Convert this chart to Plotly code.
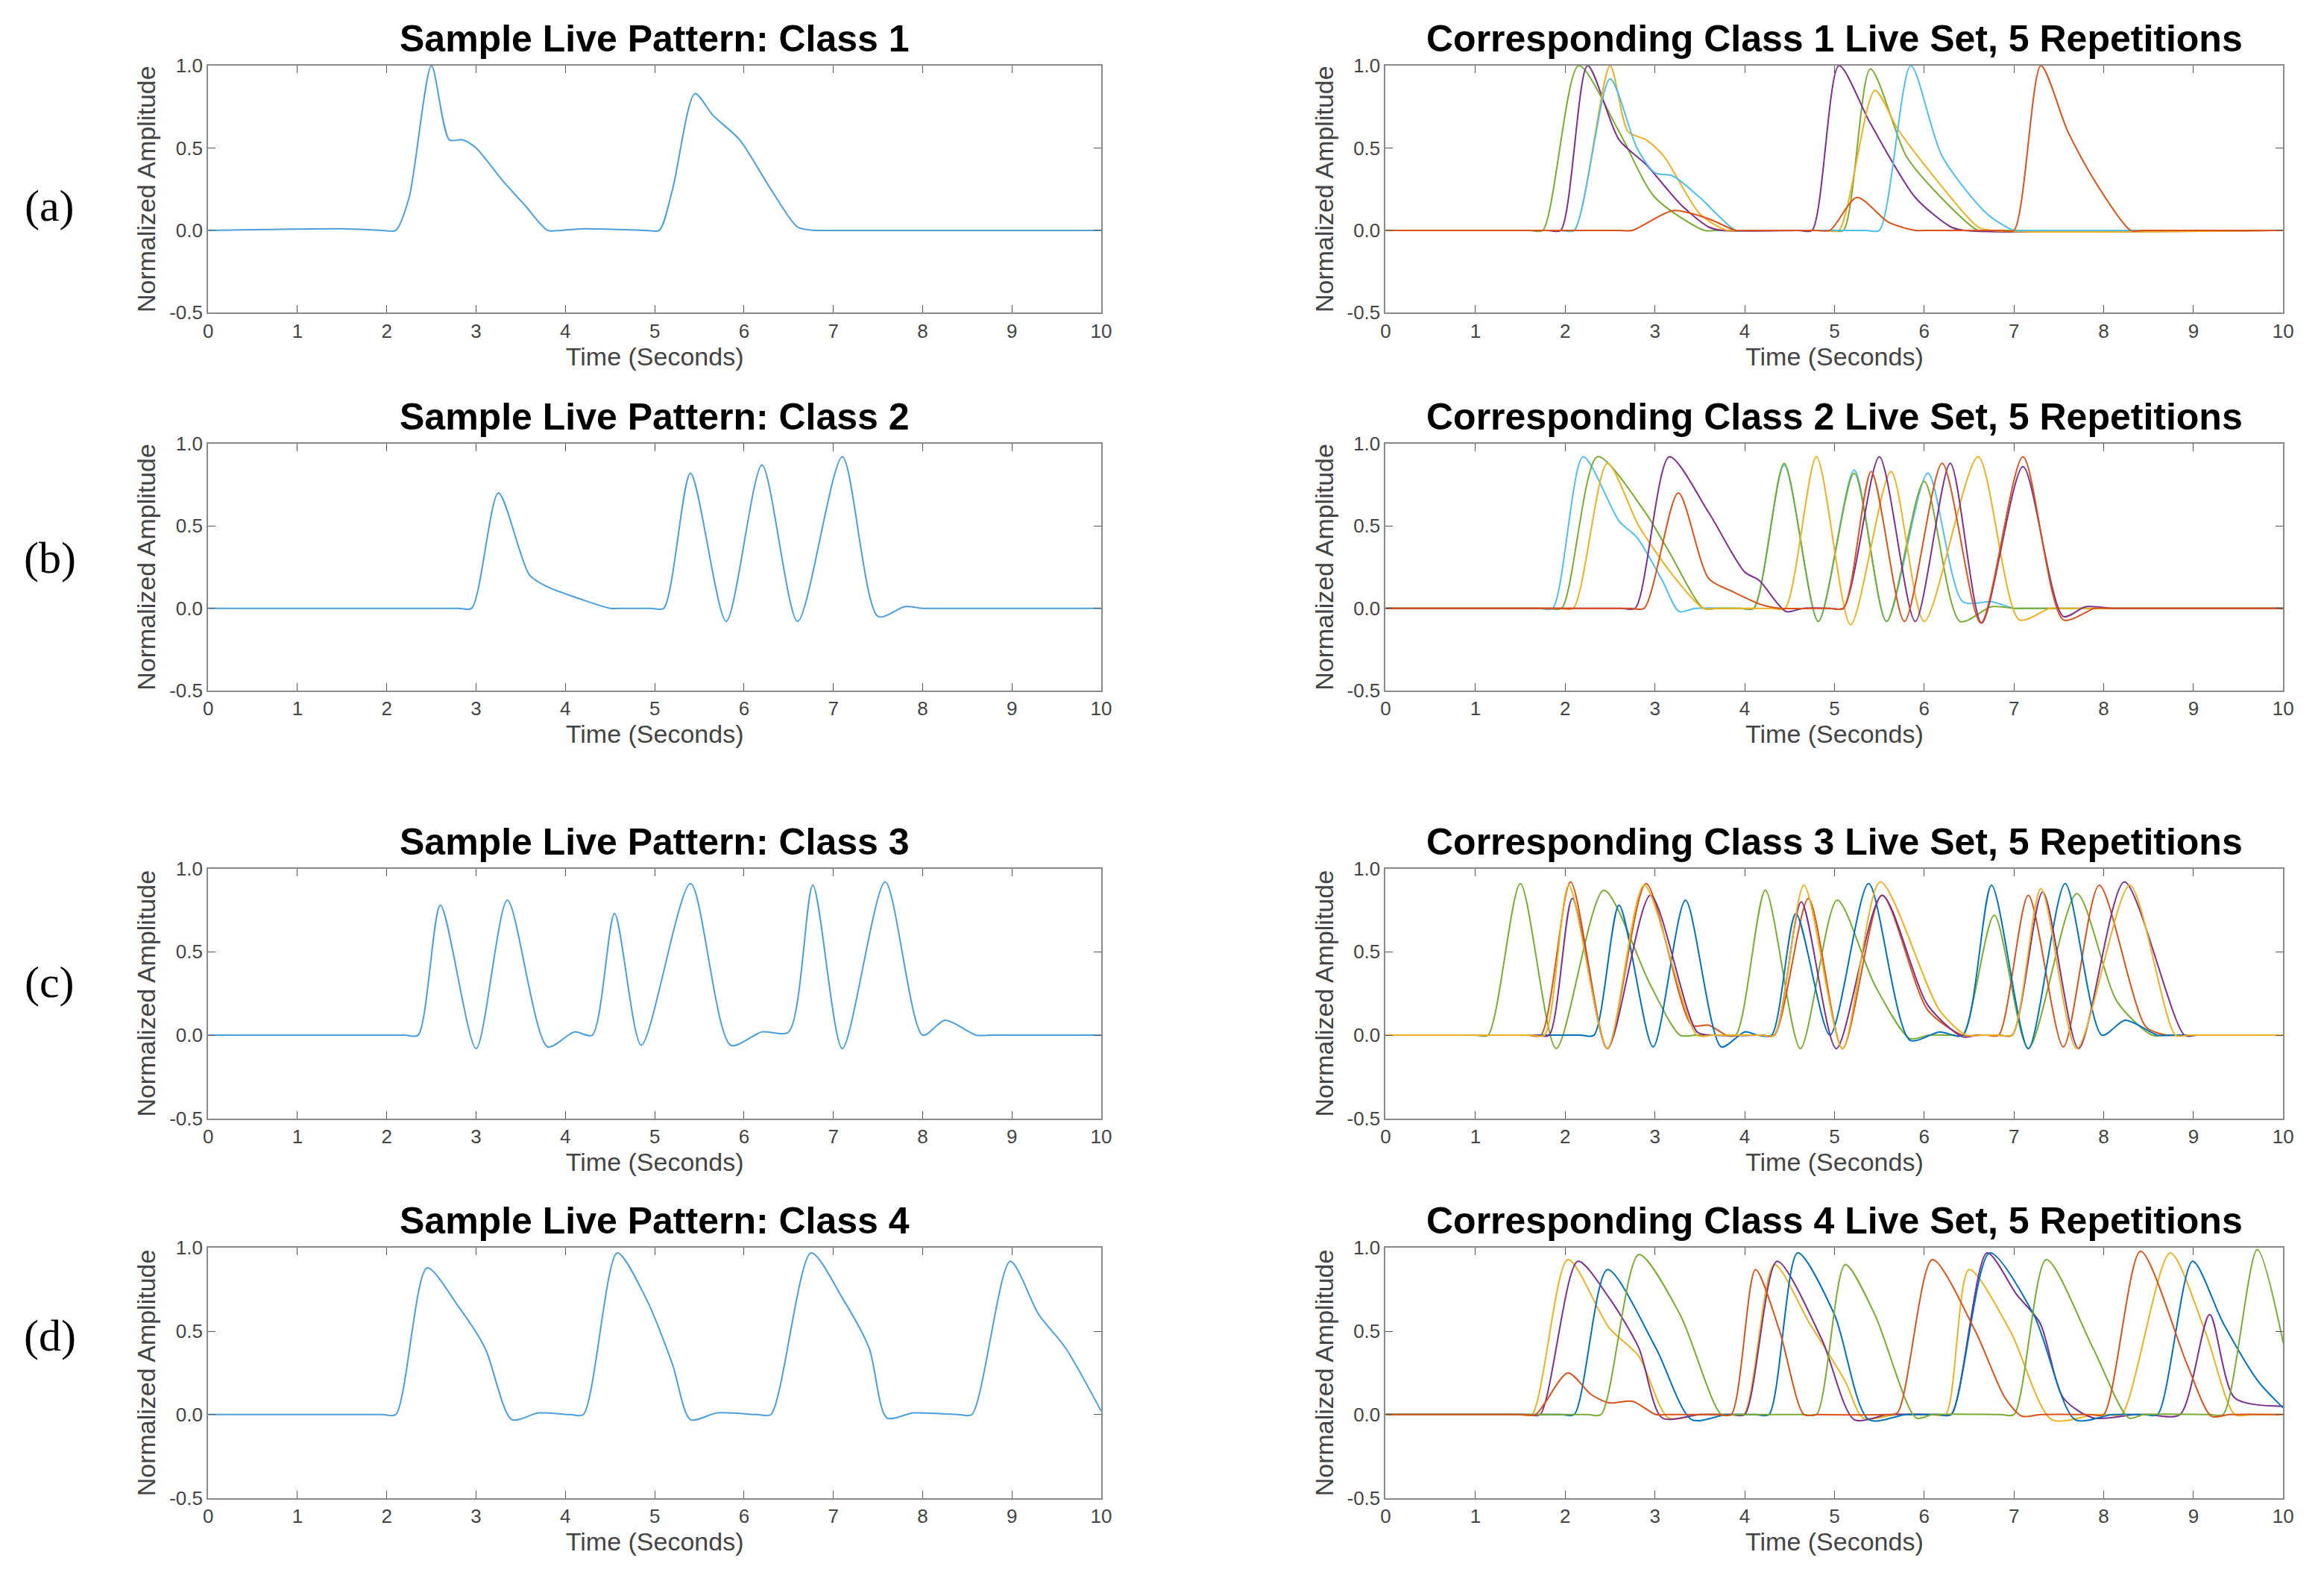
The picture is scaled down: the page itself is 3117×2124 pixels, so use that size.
import plotly.graph_objects as go
from plotly.subplots import make_subplots

BLUE = "#0072BD"
ORANGE = "#D95319"
YELLOW = "#EDB120"
PURPLE = "#7E2F8E"
GREEN = "#77AC30"
LIGHTBLUE = "#4DBEEE"
SAMPLE = "#4a9fdc"

# sample patterns (time, amplitude)
sample_1_t = [0, 1.5, 1.95, 2.1, 2.25, 2.5, 2.7, 2.85, 3.0, 3.3, 3.55, 3.8, 3.95, 4.2, 4.9, 5.05, 5.2, 5.45, 5.65, 5.95, 6.3, 6.6, 6.8, 6.95, 10]
sample_1_y = [0, 0.01, 0, 0, 0.2, 1.0, 0.55, 0.55, 0.5, 0.3, 0.15, 0, 0, 0.01, 0, 0, 0.25, 0.83, 0.7, 0.55, 0.25, 0.02, 0, 0, 0]

sample_2_t = [0, 2.8, 2.95, 3.25, 3.6, 3.8, 4.2, 4.5, 4.65, 4.95, 5.1, 5.4, 5.8, 6.2, 6.6, 7.1, 7.5, 7.8, 8.0, 8.15, 10]
sample_2_y = [0, 0, 0, 0.7, 0.2, 0.13, 0.05, 0, 0, 0, 0, 0.82, -0.08, 0.87, -0.08, 0.92, -0.05, 0.01, 0, 0, 0]

sample_3_t = [0, 2.2, 2.35, 2.6, 3.0, 3.35, 3.8, 4.1, 4.3, 4.55, 4.85, 5.4, 5.85, 6.2, 6.5, 6.77, 7.1, 7.58, 8.0, 8.25, 8.6, 8.75, 10]
sample_3_y = [0, 0, 0, 0.78, -0.08, 0.81, -0.07, 0.02, 0, 0.73, -0.06, 0.91, -0.06, 0.02, 0.02, 0.9, -0.08, 0.92, 0, 0.09, 0, 0, 0]

sample_4_t = [0, 1.95, 2.1, 2.45, 2.8, 3.1, 3.4, 3.7, 4.05, 4.2, 4.58, 4.9, 5.2, 5.4, 5.7, 6.15, 6.3, 6.75, 7.1, 7.4, 7.6, 7.9, 8.4, 8.55, 8.98, 9.3, 9.6, 10]
sample_4_y = [0, 0, 0, 0.88, 0.65, 0.4, -0.03, 0.01, 0, 0, 0.97, 0.7, 0.3, -0.03, 0.01, 0, 0, 0.97, 0.7, 0.4, -0.02, 0.01, 0, 0, 0.92, 0.6, 0.4, 0.02]

# repetition sets: (colour, times, amplitudes)
set_1 = [
    (GREEN, [0, 1.6, 1.75, 2.15, 2.6, 3.0, 3.55, 3.7, 4.95, 5.1, 5.4, 5.8, 6.1, 6.6, 6.75, 10],
            [0, 0, 0, 1.0, 0.6, 0.2, 0, 0, 0, 0, 0.98, 0.45, 0.25, 0, 0, 0]),
    (PURPLE, [0, 1.8, 1.95, 2.25, 2.6, 2.9, 3.3, 3.6, 3.75, 4.6, 4.75, 5.05, 5.4, 5.9, 6.3, 6.45, 10],
             [0, 0, 0, 1.0, 0.55, 0.4, 0.15, 0.02, 0, 0, 0, 1.0, 0.65, 0.2, 0.02, 0, 0]),
    (YELLOW, [0, 1.95, 2.1, 2.5, 2.7, 2.9, 3.1, 3.5, 3.8, 3.95, 4.9, 5.05, 5.45, 5.7, 6.0, 6.6, 6.75, 10],
             [0, 0, 0, 1.0, 0.6, 0.55, 0.45, 0.1, 0, 0, 0, 0, 0.85, 0.62, 0.4, 0.02, 0, 0]),
    (LIGHTBLUE, [0, 1.95, 2.1, 2.5, 2.8, 3.0, 3.2, 3.5, 3.9, 4.05, 5.35, 5.5, 5.85, 6.2, 6.7, 7.0, 7.15, 10],
                [0, 0, 0, 0.92, 0.5, 0.35, 0.33, 0.2, 0, 0, 0, 0, 1.0, 0.45, 0.1, 0, 0, 0]),
    (ORANGE, [0, 2.6, 2.75, 3.2, 3.6, 3.9, 4.05, 4.8, 4.95, 5.25, 5.6, 5.9, 6.05, 6.85, 7.0, 7.3, 7.6, 7.9, 8.3, 8.45, 10],
             [0, 0, 0, 0.12, 0.07, 0, 0, 0, 0, 0.2, 0.05, 0, 0, 0, 0, 1.0, 0.6, 0.3, 0, 0, 0]),
]

set_2 = [
    (LIGHTBLUE, [0, 1.7, 1.86, 2.2, 2.6, 2.8, 3.08, 3.27, 3.45, 3.95, 4.1, 4.44, 4.82, 5.22, 5.58, 6.04, 6.43, 6.75, 7.0, 7.15, 10],
                [0, 0, 0, 0.92, 0.53, 0.43, 0.17, -0.02, 0, 0, 0, 0.87, -0.08, 0.84, -0.08, 0.82, 0.04, 0.04, 0, 0, 0]),
    (GREEN, [0, 1.8, 1.96, 2.36, 2.87, 3.15, 3.54, 3.7, 3.95, 4.1, 4.44, 4.82, 5.22, 5.58, 6.0, 6.4, 6.75, 7.0, 7.15, 10],
            [0, 0, 0, 0.92, 0.6, 0.35, 0, 0, 0, 0, 0.88, -0.08, 0.82, -0.08, 0.77, -0.08, 0.01, 0, 0, 0]),
    (YELLOW, [0, 1.93, 2.09, 2.47, 2.82, 3.2, 3.54, 3.7, 4.3, 4.45, 4.8, 5.18, 5.63, 6.0, 6.6, 7.06, 7.4, 7.55, 10],
             [0, 0, 0, 0.88, 0.5, 0.2, 0, 0, 0, 0, 0.92, -0.1, 0.83, -0.08, 0.92, -0.07, 0, 0, 0]),
    (PURPLE, [0, 2.62, 2.78, 3.16, 3.6, 4.0, 4.16, 4.46, 4.65, 4.95, 5.1, 5.5, 5.9, 6.29, 6.64, 7.1, 7.55, 7.8, 8.1, 8.25, 10],
             [0, 0, 0, 0.92, 0.58, 0.22, 0.17, -0.02, 0, 0, 0, 0.92, -0.08, 0.88, -0.09, 0.86, -0.05, 0.01, 0, 0, 0]),
    (ORANGE, [0, 2.72, 2.88, 3.26, 3.6, 3.87, 4.2, 4.4, 4.95, 5.1, 5.41, 5.78, 6.2, 6.63, 7.1, 7.55, 7.9, 8.05, 10],
             [0, 0, 0, 0.7, 0.18, 0.1, 0.02, 0, 0, 0, 0.83, -0.08, 0.88, -0.09, 0.92, -0.07, 0, 0, 0]),
]

set_3 = [
    (GREEN, [0, 1.0, 1.14, 1.5, 1.9, 2.43, 2.95, 3.28, 3.45, 3.75, 3.9, 4.23, 4.62, 5.03, 5.45, 5.84, 6.05, 6.3, 6.43, 6.78, 7.16, 7.7, 8.15, 8.54, 8.7, 10],
            [0, 0, 0, 0.91, -0.08, 0.87, 0.3, 0, 0, 0, 0, 0.87, -0.08, 0.81, 0.3, -0.02, 0, 0, 0, 0.72, -0.08, 0.85, 0.2, 0, 0, 0]),
    (ORANGE, [0, 1.58, 1.73, 2.06, 2.47, 2.9, 3.41, 3.6, 3.8, 3.95, 4.18, 4.33, 4.71, 5.09, 5.53, 6.04, 6.43, 6.6, 6.7, 6.83, 7.16, 7.55, 7.95, 8.47, 8.7, 8.85, 10],
             [0, 0, 0, 0.92, -0.08, 0.91, 0.06, 0.06, 0, 0, 0, 0, 0.82, -0.08, 0.84, 0.15, 0, 0, 0, 0, 0.84, -0.07, 0.9, 0.05, 0, 0, 0]),
    (BLUE, [0, 2.17, 2.32, 2.6, 2.98, 3.34, 3.74, 4.0, 4.15, 4.3, 4.57, 4.95, 5.38, 5.84, 6.17, 6.43, 6.75, 7.16, 7.57, 7.98, 8.24, 8.6, 8.75, 10],
           [0, 0, 0, 0.78, -0.07, 0.81, -0.07, 0.02, 0, 0, 0.73, 0, 0.91, -0.03, 0.02, 0, 0.9, -0.08, 0.91, 0, 0.09, 0, 0, 0]),
    (PURPLE, [0, 1.67, 1.82, 2.08, 2.47, 2.95, 3.47, 3.65, 4.18, 4.33, 4.63, 5.02, 5.53, 6.04, 6.43, 6.6, 6.83, 6.98, 7.32, 7.72, 8.23, 8.9, 9.05, 10],
             [0, 0, 0, 0.82, -0.08, 0.84, 0.02, 0, 0, 0, 0.8, -0.08, 0.84, 0.18, -0.01, 0, 0, 0, 0.86, -0.08, 0.92, 0, 0, 0]),
    (YELLOW, [0, 1.62, 1.77, 2.04, 2.47, 2.88, 3.47, 3.65, 4.18, 4.33, 4.66, 5.09, 5.51, 6.17, 6.47, 6.65, 6.83, 6.98, 7.3, 7.7, 8.29, 8.8, 8.95, 10],
             [0, 0, 0, 0.9, -0.08, 0.9, 0, 0, 0, 0, 0.9, -0.08, 0.92, 0.15, 0, 0, 0, 0, 0.88, -0.08, 0.9, 0, 0, 0]),
]

set_4 = [
    (YELLOW, [0, 1.48, 1.63, 2.03, 2.49, 2.82, 3.15, 3.5, 3.84, 3.99, 4.33, 4.72, 5.12, 5.32, 5.7, 6.09, 6.24, 6.5, 6.96, 7.42, 7.9, 8.05, 8.2, 8.74, 9.13, 9.46, 9.65, 10],
             [0, 0, 0, 0.93, 0.52, 0.35, -0.02, 0, 0, 0, 0.9, 0.55, 0.2, -0.02, 0, 0, 0, 0.87, 0.5, -0.03, 0, 0, 0, 0.97, 0.5, 0, 0, 0]),
    (PURPLE, [0, 1.57, 1.72, 2.14, 2.49, 2.82, 3.08, 3.5, 3.85, 4.0, 4.36, 4.86, 5.22, 5.6, 6.15, 6.3, 6.7, 7.03, 7.29, 7.55, 7.88, 8.35, 8.5, 8.85, 9.18, 9.46, 10],
             [0, 0, 0, 0.92, 0.7, 0.4, -0.02, 0, 0, 0, 0.92, 0.45, -0.03, 0, 0, 0, 0.97, 0.72, 0.55, 0.1, -0.02, 0, 0, 0, 0.6, 0.1, 0.05]),
    (BLUE, [0, 1.95, 2.1, 2.47, 3.01, 3.41, 3.8, 4.12, 4.27, 4.59, 5.0, 5.38, 5.8, 6.15, 6.3, 6.73, 7.22, 7.68, 8.1, 8.45, 8.6, 8.99, 9.33, 9.72, 10],
           [0, 0, 0, 0.87, 0.4, -0.03, 0, 0, 0, 0.97, 0.6, -0.03, 0, 0, 0, 0.97, 0.6, -0.03, 0, 0, 0, 0.92, 0.55, 0.2, 0.04]),
    (GREEN, [0, 2.25, 2.4, 2.82, 3.28, 3.74, 3.9, 4.65, 4.8, 5.12, 5.45, 5.91, 6.1, 6.85, 7.0, 7.36, 7.88, 8.28, 8.45, 9.18, 9.33, 9.71, 10],
            [0, 0, 0, 0.96, 0.6, 0, 0, 0, 0, 0.9, 0.6, -0.02, 0, 0, 0, 0.93, 0.4, -0.02, 0, 0, 0, 0.99, 0.43]),
    (ORANGE, [0, 1.52, 1.67, 2.03, 2.29, 2.49, 2.75, 3.01, 3.15, 3.7, 3.85, 4.12, 4.39, 4.66, 4.8, 5.55, 5.7, 6.09, 6.57, 6.9, 7.09, 7.3, 7.85, 8.0, 8.41, 8.93, 9.2, 9.4, 10],
             [0, 0, 0, 0.25, 0.12, 0.07, 0.08, 0, 0, 0, 0, 0.87, 0.5, 0, 0, 0, 0.01, 0.93, 0.5, 0.1, -0.01, 0, 0, 0, 0.98, 0.3, -0.01, 0, 0]),
]

samples = [(sample_1_t, sample_1_y), (sample_2_t, sample_2_y),
           (sample_3_t, sample_3_y), (sample_4_t, sample_4_y)]
sets = [set_1, set_2, set_3, set_4]
labels = ["(a)", "(b)", "(c)", "(d)"]

W, H = 3117, 2124
row_px = [(66, 402), (580, 916), (1158, 1498), (1674, 2014)]
left_dom = [266 / W, 1472 / W]
right_dom = [1856 / W, 3068 / W]
FONT = "Liberation Sans"

fig = make_subplots(rows=4, cols=2)
annotations = []

for i in range(4):
    r = i + 1
    st, sy = samples[i]
    fig.add_trace(go.Scatter(x=st, y=sy, mode="lines", line=dict(color=SAMPLE, width=2, shape="spline", smoothing=0.75),
                             showlegend=False), row=r, col=1)
    for color, t, y in sets[i]:
        fig.add_trace(go.Scatter(x=t, y=y, mode="lines", line=dict(color=color, width=2, shape="spline", smoothing=0.75),
                                 showlegend=False), row=r, col=2)

    ydom = [1 - row_px[i][1] / H, 1 - row_px[i][0] / H]
    for c, dom in ((1, left_dom), (2, right_dom)):
        fig.update_xaxes(domain=dom, range=[0, 10], dtick=1, row=r, col=c)
        fig.update_yaxes(domain=ydom, range=[-0.5, 1.0], tickvals=[-0.5, 0, 0.5, 1.0],
                         ticktext=["-0.5", "0.0", "0.5", "1.0"], row=r, col=c)

    top = 1 - row_px[i][0] / H
    annotations.append(dict(text="<b>Sample Live Pattern: Class %d</b>" % r, x=sum(left_dom) / 2, y=top,
                            xref="paper", yref="paper", xanchor="center", yanchor="bottom", yshift=6,
                            showarrow=False, font=dict(size=50, color="black", family=FONT)))
    annotations.append(dict(text="<b>Corresponding Class %d Live Set, 5 Repetitions</b>" % r, x=sum(right_dom) / 2,
                            y=top, xref="paper", yref="paper", xanchor="center", yanchor="bottom", yshift=6,
                            showarrow=False, font=dict(size=50, color="black", family=FONT)))
    annotations.append(dict(text=labels[i], x=52 / W, y=1 - (row_px[i][0] + 155) / H, xref="paper", yref="paper",
                            xanchor="center", showarrow=False,
                            font=dict(size=60, color="black", family="Liberation Serif")))

fig.update_xaxes(showline=True, mirror="ticks", linecolor="#8a8a8a", linewidth=2, ticks="inside", ticklen=10,
                 tickcolor="#555", showgrid=False, zeroline=False,
                 tickfont=dict(size=26, color="#444", family=FONT),
                 title=dict(text="Time (Seconds)", standoff=6, font=dict(size=34, color="#444", family=FONT)))
fig.update_yaxes(showline=True, mirror="ticks", linecolor="#8a8a8a", linewidth=2, ticks="inside", ticklen=10,
                 tickcolor="#555", showgrid=False, zeroline=False,
                 tickfont=dict(size=26, color="#444", family=FONT),
                 title=dict(text="Normalized Amplitude", standoff=8, font=dict(size=34, color="#444", family=FONT)))

fig.update_layout(width=W, height=H, margin=dict(l=0, r=0, t=0, b=0), plot_bgcolor="white",
                  paper_bgcolor="white", annotations=annotations, showlegend=False)

fig.write_html("out.html")
